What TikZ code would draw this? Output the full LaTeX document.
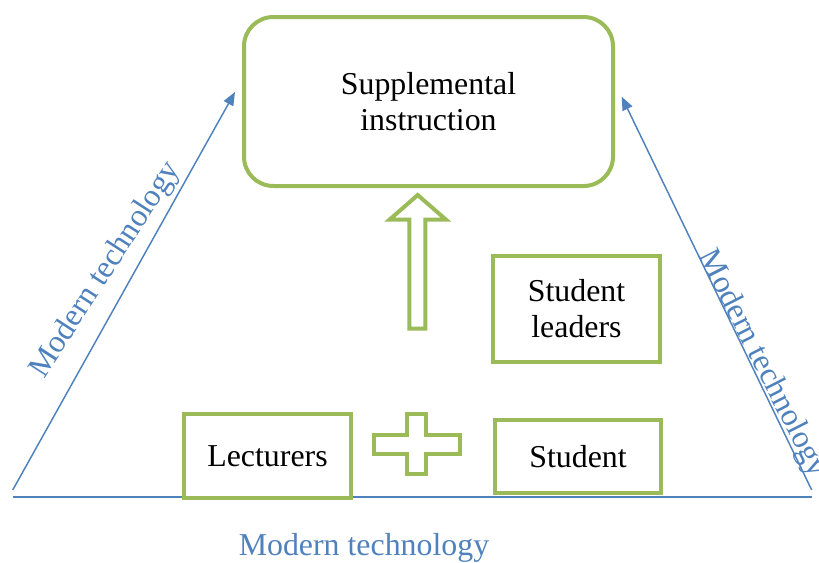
\documentclass[tikz,border=0pt]{standalone}
\usepackage{fontspec}
\setmainfont{Liberation Serif}
\usetikzlibrary{arrows.meta}

\definecolor{sigreen}{RGB}{155,187,89}
\definecolor{siblue}{RGB}{79,129,189}

\tikzset{every picture/.style={line width=0.75pt}}
\tikzset{
  greenbox/.style={draw=sigreen, line width=3pt, fill=white, inner sep=0pt, align=center, font=\fontsize{23.9}{27}\selectfont},
  greenshape/.style={draw=sigreen, line width=3pt, fill=white},
  techarrow/.style={draw=siblue, line width=1.1pt, -{Triangle[length=10pt,width=8pt]}},
  techlabel/.style={text=siblue, inner sep=0pt, font=\fontsize{23.9}{27}\selectfont}
}

\begin{document}
\begin{tikzpicture}[x=0.75pt,y=0.75pt,yscale=-1,xscale=1]
\useasboundingbox (0,0) rectangle (819,562);

%Coordinates of the outer triangle
\coordinate (baseL) at (12.5,497);
\coordinate (baseR) at (812,497);
\coordinate (leftS) at (12.7,490);
\coordinate (leftE) at (235,92);
\coordinate (rightS) at (811.7,490);
\coordinate (rightE) at (621.7,96.7);

%Straight Lines
\draw [draw=siblue, line width=1.1pt] (baseL) -- (baseR) ;
\draw [techarrow] (leftS) -- (leftE) ;
\draw [techarrow] (rightS) -- (rightE) ;

% Text Node
\node [techlabel, rotate=57] (techL) at (106,270) {Modern technology};
% Text Node
\node [techlabel, rotate=-63] (techR) at (762,364) {Modern technology};
% Text Node
\node [techlabel, anchor=base] (techB) at (364,555) {Modern technology};

%Rounded Rect
\node [greenbox, rounded corners=22pt, minimum width=276.75pt, minimum height=126.75pt] (si) at (428.5,101.5) {Supplemental\\instruction};

%Shape: Up Arrow
\draw [greenshape] (409.3,328.7) -- (409.3,219.7) -- (389.5,219.7) -- (417.7,195) -- (446,219.7) -- (425.3,219.7) -- (425.3,328.7) -- cycle ;

%Shape: Rectangle
\node [greenbox, minimum width=125.25pt, minimum height=79.5pt] (leaders) at (576.5,309) {Student\\leaders};
%Shape: Rectangle
\node [greenbox, minimum width=125.25pt, minimum height=63pt] (lect) at (267.5,456) {Lecturers};
%Shape: Rectangle
\node [greenbox, minimum width=124.5pt, minimum height=54.75pt] (stud) at (578,456.5) {Student};

%Shape: Plus
\draw [greenshape] (407,414.3) -- (426.3,414.3) -- (426.3,435.3) -- (459.7,435.3) -- (459.7,454) -- (426.3,454) -- (426.3,474) -- (407,474) -- (407,454) -- (373.7,454) -- (373.7,435.3) -- (407,435.3) -- cycle ;

\end{tikzpicture}
\end{document}
